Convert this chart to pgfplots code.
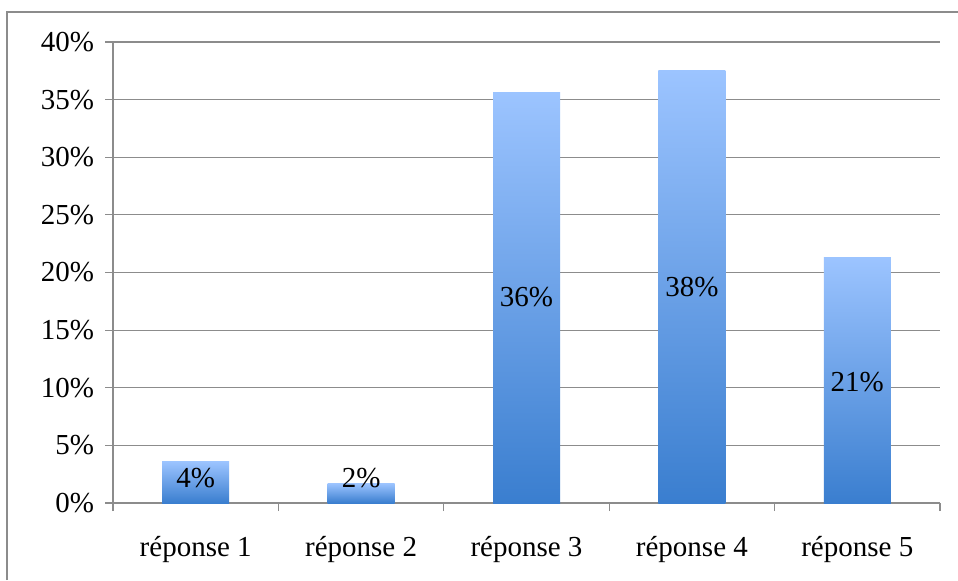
\documentclass[border=0pt]{standalone}
\usepackage{fontspec}
\setmainfont{Liberation Serif}
\usepackage{pgfplots}
\pgfplotsset{compat=1.18}
\definecolor{gridgray}{HTML}{8C8C8C}
\definecolor{bartop}{HTML}{9CC4FF}
\definecolor{barbot}{HTML}{3A7ECF}
\pgfplotsset{mybar/.style={ybar, bar width=33.5pt, bar shift=0pt, draw=none, mark=none, top color=bartop, bottom color=barbot}}
\begin{document}
\begin{tikzpicture}[x=1pt,y=1pt]
\path[use as bounding box, fill=white] (0,0) rectangle (479,290);
\draw[gridgray, line width=1pt] (3.5,0) -- (3.5,284) -- (479,284);
\begin{axis}[
  at={(56.5pt,38.5pt)}, anchor=south west,
  scale only axis, width=413.5pt, height=230.5pt,
  xmin=-0.5, xmax=4.5, ymin=0, ymax=40,
  axis x line*=bottom, axis y line*=left,
  axis line style={gridgray, line width=0.6pt},
  ytick={0,5,...,40},
  yticklabel={\pgfmathprintnumber{\tick}\%},
  /pgf/number format/assume math mode=true,
  ymajorgrids, major grid style={gridgray, line width=0.6pt},
  tick style={gridgray, line width=0.6pt},
  tick align=outside, major tick length=4pt,
  xtick={0,1,2,3,4},
  xticklabels={réponse 1, réponse 2, réponse 3, réponse 4, réponse 5},
  x tick style={draw=none},
  minor xtick={-0.5,0.5,1.5,2.5,3.5,4.5},
  minor x tick style={gridgray, line width=0.6pt, draw=gridgray},
  minor tick length=4pt,
  ticklabel style={font=\fontsize{14.5}{17}\selectfont},
  xticklabel style={yshift=-9pt},
  yticklabel style={xshift=-2pt},
  clip=false,
]
\addplot[mybar] coordinates {(0,3.6)};
\addplot[mybar] coordinates {(1,1.7)};
\addplot[mybar] coordinates {(2,35.6)};
\addplot[mybar] coordinates {(3,37.5)};
\addplot[mybar] coordinates {(4,21.3)};
\addplot[draw=none, mark=none, nodes near coords, point meta=explicit symbolic,
  every node near coord/.append style={anchor=center, font=\fontsize{14.5}{17}\selectfont, text=black}]
  table[meta=lab] {
x y lab
0 2.2 4\%
1 2.2 2\%
2 17.9 36\%
3 18.7 38\%
4 10.5 21\%
};
\end{axis}
\end{tikzpicture}
\end{document}
